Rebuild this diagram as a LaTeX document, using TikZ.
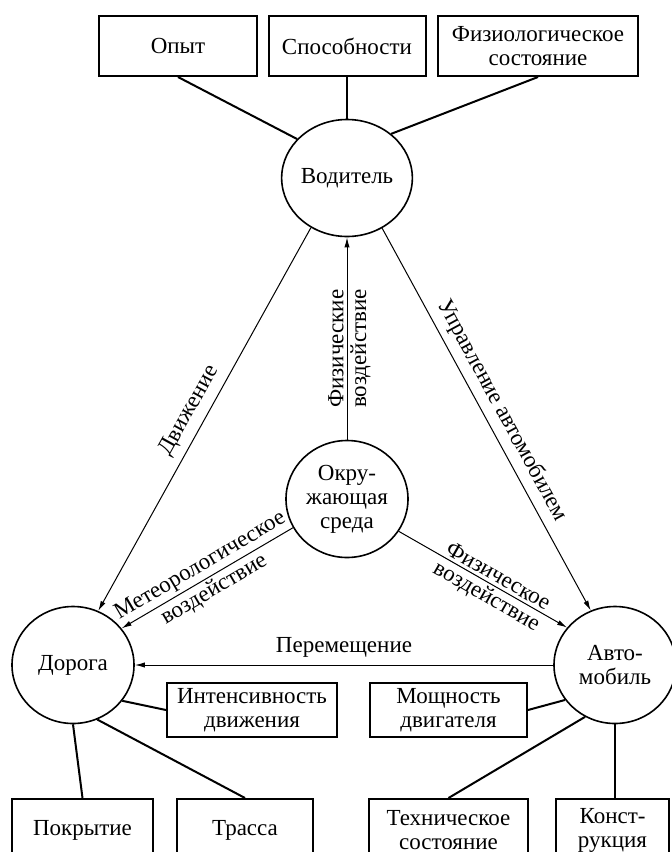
\documentclass[tikz,border=0pt]{standalone}
\usepackage{fontspec}
\setmainfont{Liberation Serif}
\usetikzlibrary{arrows.meta,shapes.geometric}

\begin{document}
\begin{tikzpicture}[x=0.5pt, y=-0.5pt, font=\fontsize{11.5}{12}\selectfont,
	core/.style={ellipse, draw, line width=0.8pt, minimum width=61pt, minimum height=58.5pt, inner sep=0pt, align=center},
	cell/.style={rectangle, draw, line width=1pt, minimum height=30pt, inner sep=2pt, align=center},
	link/.style={line width=1pt},
	flow/.style={line width=0.5pt, -{Latex[length=5pt, width=2.6pt]}},
	rflow/.style={line width=0.5pt, {Latex[length=5pt, width=2.6pt]}-},
	lbl/.style={sloped, inner sep=1.5pt}]
	\useasboundingbox (0,0) rectangle (672,852);
	\clip (0,0) rectangle (672,852);
	\node (Drv)  at (347, 178)	[core]	{Водитель};
	\node (Env)  at (347, 499)	[core]	{Окру-\\жающая\\среда};
	\node (Road) at ( 73, 665)	[core]	{Дорога};
	\node (Car)  at (615, 665)	[core]	{Авто-\\мобиль};
	\node (Exp)  at (178,  46)	[cell, minimum width=79pt]	{Опыт};
	\node (Abl)  at (347,  46)	[cell, minimum width=78.5pt]	{Способности};
	\node (Phs)  at (538,  46)	[cell, minimum width=100pt]	{Физиологическое\\состояние};
	\node (Trf)  at (252, 710)	[cell, minimum width=85pt, minimum height=27pt]	{Интенсивность\\движения};
	\node (Pwr)  at (448.5, 710)	[cell, minimum width=78.5pt, minimum height=27pt]	{Мощность\\двигателя};
	\node (Srf)  at ( 82.5, 830)	[cell, minimum width=70.5pt, minimum height=31pt]	{Покрытие};
	\node (Rte)  at (245, 830)	[cell, minimum width=68pt, minimum height=31pt]	{Трасса};
	\node (Tch)  at (448.5, 830)	[cell, minimum width=79.5pt, minimum height=31pt]	{Техническое\\состояние};
	\node (Cns)  at (612.5, 830)	[cell, minimum width=56.5pt, minimum height=31pt]	{Конст-\\рукция};
	\draw[link] (Exp.south) -- (Drv.142);
	\draw[link] (Abl.south) -- (Drv.north);
	\draw[link] (Phs.south) -- (Drv.45);
	\draw[link] (Trf.west) -- (Road.-36);
	\draw[link] (Srf.north) -- (Road.south);
	\draw[link] (Rte.north) -- (Road.-66);
	\draw[link] (Pwr.east) -- (Car.215);
	\draw[link] (Tch.north) -- (Car.240);
	\draw[link] (Car.south) -- (Car.south |- Cns.north);
	\draw[rflow] (Road.65) -- (Drv.234) node[midway, above, sloped] {Движение};
	\draw[flow] (Drv.305) -- (Car.114) node[midway, above, sloped] {Управление автомобилем};
	\draw[flow] (Env.north) -- (Drv.south)
		node[lbl, pos=0.45, above] {Физические}
		node[lbl, pos=0.45, below] {воздействие};
	\draw[rflow] (Road.37) -- (Env.208)
		node[lbl, midway, above] {Метеорологическое}
		node[lbl, midway, below] {воздействие};
	\draw[flow] (Env.328) -- (Car.142)
		node[lbl, pos=0.56, above] {Физическое}
		node[lbl, pos=0.56, below] {воздействие};
	\draw[rflow] (Road.east) -- (Car.west) node[midway, above] {Перемещение};
\end{tikzpicture}
\end{document}
